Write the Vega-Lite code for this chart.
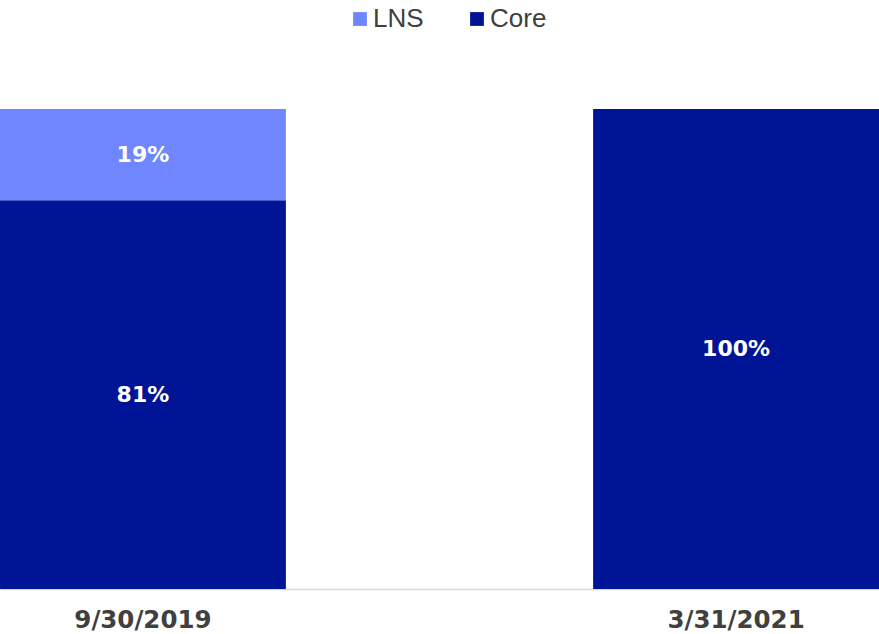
{
  "$schema": "https://vega.github.io/schema/vega-lite/v6.json",
  "autosize": {"type": "none"},
  "width": 879,
  "height": 480,
  "padding": {"top": 109, "left": 0, "right": 0, "bottom": 45},
  "background": "white",
  "config": {"view": {"stroke": null}},
  "data": {
    "values": [
      {"date": "9/30/2019", "segment": "Core", "value": 0.81, "label": "81%"},
      {"date": "9/30/2019", "segment": "LNS", "value": 0.19, "label": "19%"},
      {"date": "3/31/2021", "segment": "Core", "value": 1.0, "label": "100%"}
    ]
  },
  "encoding": {
    "x": {
      "field": "date",
      "type": "nominal",
      "sort": ["9/30/2019", "3/31/2021"],
      "scale": {"paddingInner": 0.518, "paddingOuter": 0},
      "axis": {
        "title": null,
        "ticks": false,
        "labelAngle": 0,
        "labelFont": "DejaVu Sans",
        "labelFontWeight": "bold",
        "labelFontSize": 24.5,
        "labelColor": "#404040",
        "labelPadding": 19,
        "domainColor": "#d9d9d9",
        "domainWidth": 1.5
      }
    },
    "y": {
      "field": "value",
      "type": "quantitative",
      "stack": "zero",
      "scale": {"domain": [0, 1], "nice": false},
      "axis": null
    },
    "order": {"field": "segment", "sort": "ascending"}
  },
  "layer": [
    {
      "mark": {"type": "bar"},
      "encoding": {
        "color": {
          "field": "segment",
          "type": "nominal",
          "scale": {"domain": ["LNS", "Core"], "range": ["#6F86FF", "#001496"]},
          "legend": {
            "title": null,
            "orient": "none",
            "direction": "horizontal",
            "legendX": 347,
            "legendY": -103,
            "symbolType": "square",
            "symbolSize": 190,
            "symbolStrokeWidth": 0,
            "symbolOpacity": 1,
            "labelFont": "Liberation Sans",
            "labelFontSize": 26,
            "labelColor": "#404040",
            "labelOffset": 0,
            "columnPadding": 40
          }
        }
      }
    },
    {
      "mark": {
        "type": "text",
        "color": "white",
        "font": "DejaVu Sans",
        "fontWeight": "bold",
        "fontSize": 22,
        "baseline": "middle"
      },
      "encoding": {
        "y": {"field": "value", "type": "quantitative", "stack": "zero", "bandPosition": 0.5},
        "text": {"field": "label"}
      }
    }
  ]
}
